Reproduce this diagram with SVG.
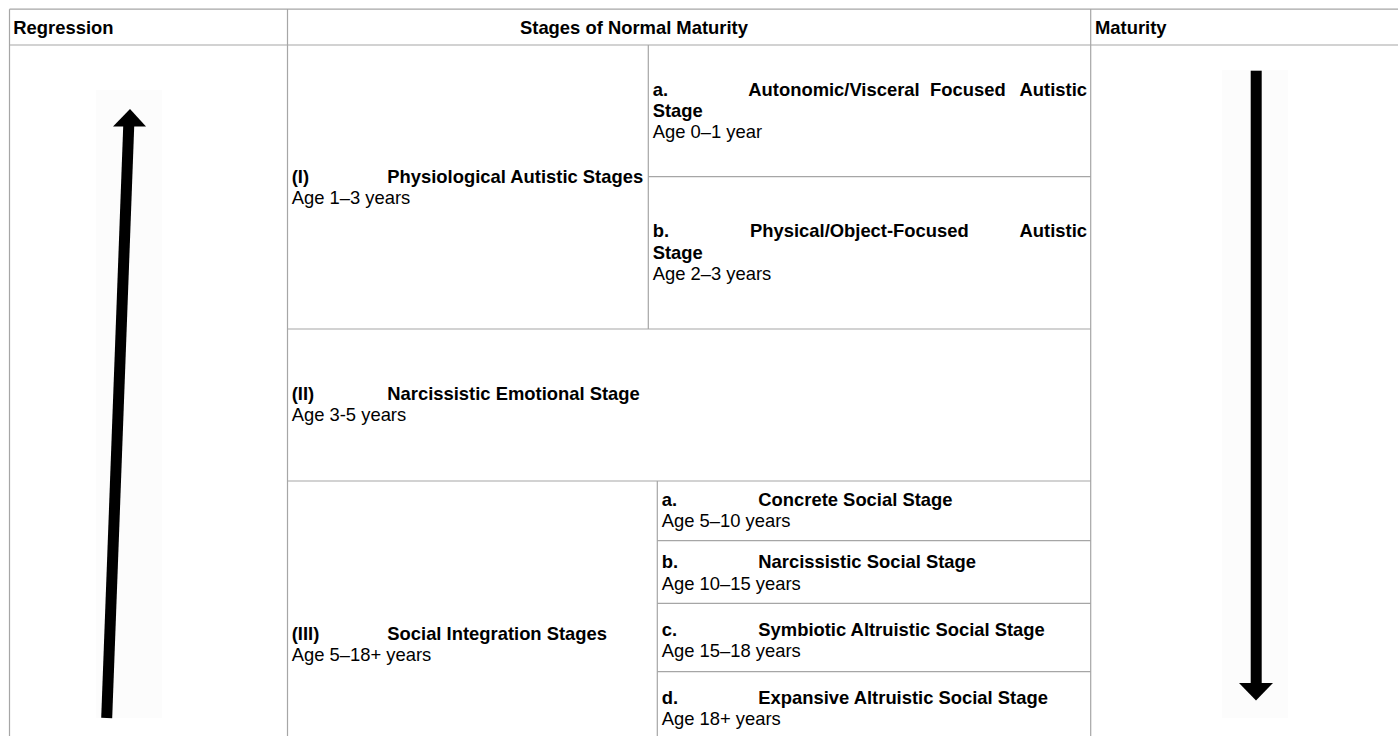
<svg xmlns="http://www.w3.org/2000/svg" width="1398" height="736" viewBox="0 0 1398 736">
<style>
  text { font-family: "Liberation Sans", Arial, sans-serif; font-size: 18.4px; fill: #000; }
  .b { font-weight: bold; }
  .grid { stroke: #a6a6a6; stroke-width: 1.2; fill: none; }
  .ink { fill: #000; }
  .bg { fill: #fcfcfc; }
</style>
<rect width="1398" height="736" fill="#fff"/>

<g id="grid" class="grid">
  <path d="M9.5 9.2H1398 M9.5 45H1398 M9.5 9.2V736 M287.5 9.2V736 M1090.7 9.2V736 M648.3 45V329 M648.3 176.7H1090.7 M287.5 329H1090.7 M287.5 481H1090.7 M657.3 481V736 M657.3 540.7H1090.7 M657.3 603.3H1090.7 M657.3 671.7H1090.7"/>
</g>

<g id="header-regression"><text class="b" x="13.3" y="34">Regression</text></g>
<g id="header-stages"><text class="b" x="520" y="34">Stages of Normal Maturity</text></g>
<g id="header-maturity"><text class="b" x="1095" y="34">Maturity</text></g>

<g id="stage-I">
  <text class="b" x="291.7" y="182.5">(I)</text>
  <text class="b" x="387.3" y="182.5">Physiological Autistic Stages</text>
  <text x="291.7" y="203.5">Age 1–3 years</text>
</g>
<g id="stage-I-a">
  <text class="b" x="652.7" y="96">a.</text>
  <text class="b" x="748.3" y="96">Autonomic/Visceral</text>
  <text class="b" x="930" y="96">Focused</text>
  <text class="b" x="1087" y="96" text-anchor="end">Autistic</text>
  <text class="b" x="652.7" y="117">Stage</text>
  <text x="652.7" y="138">Age 0–1 year</text>
</g>
<g id="stage-I-b">
  <text class="b" x="652.7" y="237">b.</text>
  <text class="b" x="750" y="237">Physical/Object-Focused</text>
  <text class="b" x="1087" y="237" text-anchor="end">Autistic</text>
  <text class="b" x="652.7" y="258.5">Stage</text>
  <text x="652.7" y="280">Age 2–3 years</text>
</g>
<g id="stage-II">
  <text class="b" x="291.7" y="400">(II)</text>
  <text class="b" x="387.3" y="400">Narcissistic Emotional Stage</text>
  <text x="291.7" y="421">Age 3-5 years</text>
</g>
<g id="stage-III">
  <text class="b" x="291.7" y="640">(III)</text>
  <text class="b" x="387.3" y="640">Social Integration Stages</text>
  <text x="291.7" y="661">Age 5–18+ years</text>
</g>
<g id="stage-III-a">
  <text class="b" x="661.7" y="506">a.</text>
  <text class="b" x="758.3" y="506">Concrete Social Stage</text>
  <text x="661.7" y="527">Age 5–10 years</text>
</g>
<g id="stage-III-b">
  <text class="b" x="661.7" y="568">b.</text>
  <text class="b" x="758.3" y="568">Narcissistic Social Stage</text>
  <text x="661.7" y="589.5">Age 10–15 years</text>
</g>
<g id="stage-III-c">
  <text class="b" x="661.7" y="636">c.</text>
  <text class="b" x="758.3" y="636">Symbiotic Altruistic Social Stage</text>
  <text x="661.7" y="657">Age 15–18 years</text>
</g>
<g id="stage-III-d">
  <text class="b" x="661.7" y="704">d.</text>
  <text class="b" x="758.3" y="704">Expansive Altruistic Social Stage</text>
  <text x="661.7" y="725">Age 18+ years</text>
</g>

<g id="connectors">
  <g id="regression-arrow">
    <rect class="bg" x="96" y="90" width="66" height="628"/>
    <line x1="106.7" y1="718" x2="128.8" y2="124" stroke="#000" stroke-width="11"/>
    <polygon class="ink" points="113,126.5 130,109 146,126.5"/>
  </g>
  <g id="maturity-arrow">
    <rect class="bg" x="1222" y="70" width="66" height="648"/>
    <rect class="ink" x="1250.7" y="70.7" width="11" height="614"/>
    <polygon class="ink" points="1239,683 1273,683 1256,700.5"/>
  </g>
</g>
</svg>
